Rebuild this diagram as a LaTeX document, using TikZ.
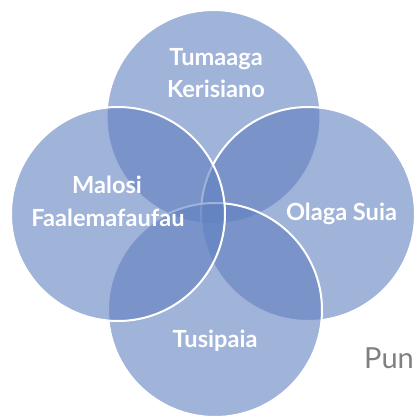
\documentclass[tikz,border=0pt]{standalone}
\usepackage{fontspec}
\setmainfont{Lato}
\newfontfamily\labelfont{Lato}[UprightFont=* Bold]
\definecolor{vennblue}{RGB}{96,128,192}
\definecolor{puntext}{RGB}{128,128,128}
\tikzset{
  venn/.style={circle, minimum size=214pt, inner sep=0pt, fill=vennblue, fill opacity=0.6, draw=white, draw opacity=1, line width=2pt},
  lbl/.style={text=white, font=\labelfont\fontsize{23.6}{28}\selectfont, inner sep=0pt, anchor=base},
  puntxt/.style={text=puntext, font=\fontsize{29}{34}\selectfont, inner sep=0pt, anchor=base west}
}
\begin{document}
\begin{tikzpicture}[x=1pt,y=-1pt]
\useasboundingbox (0,0) rectangle (414,416);
\begin{scope}
\clip (0,0) rectangle (414,416);
\node[venn] (ctop) at (213.5,117) {};
\node[venn] (cright) at (308,214) {};
\node[venn] (cbottom) at (215,310) {};
\node[venn] (cleft) at (118,214) {};
\end{scope}
\node[lbl] (t1) at (216,65) {Tumaaga};
\node[lbl] (t2) at (216,97) {Kerisiano};
\node[lbl] (l1) at (107,193) {Malosi};
\node[lbl] (l2) at (108,226) {Faalemafaufau};
\node[lbl] (r1) at (341.5,220) {Olaga Suia};
\node[lbl] (b1) at (215,347) {Tusipaia};
\node[puntxt] (p1) at (364,368) {Pun};
\end{tikzpicture}
\end{document}
